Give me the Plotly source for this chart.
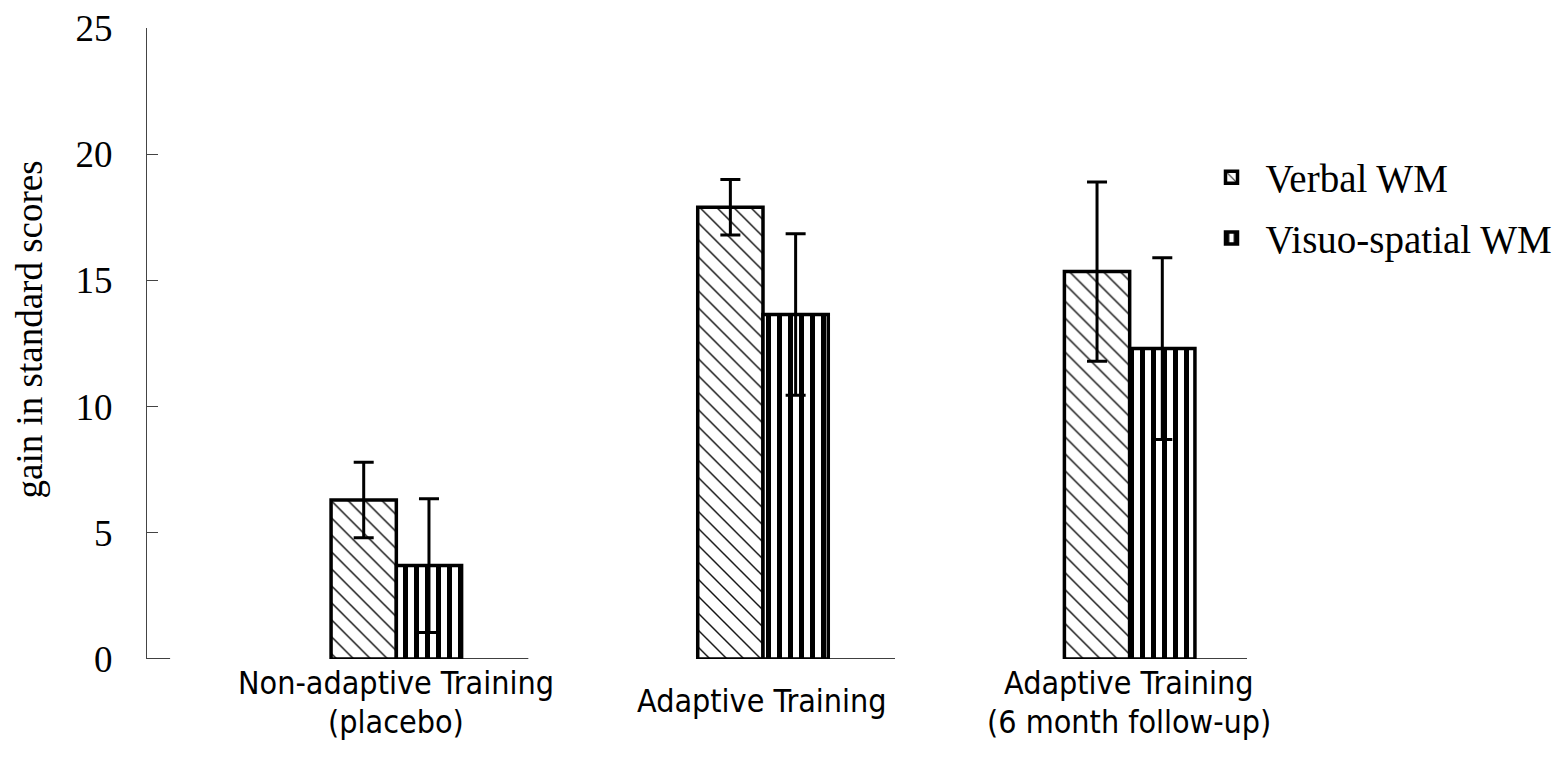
import plotly.graph_objects as go

# Gain in standard working-memory scores by training condition
categories = ["Non-adaptive Training (placebo)", "Adaptive Training", "Adaptive Training (6 month follow-up)"]
label_line1 = ["Non-adaptive Training", "Adaptive Training", "Adaptive Training"]
label_line2 = ["(placebo)", "", "(6 month follow-up)"]

verbal_wm = [6.3, 17.9, 15.35]
verbal_err = [1.5, 1.1, 3.55]
visuo_wm = [3.7, 13.65, 12.3]
visuo_err = [2.65, 3.2, 3.6]

y_ticks = [0, 5, 10, 15, 20, 25]

bar_w = 0.178  # bar width in category units
serif = "Liberation Serif, Times New Roman, serif"
sans = "Liberation Sans Narrow, DejaVu Sans Condensed, Arial Narrow, sans-serif"

fig = go.Figure()

fig.add_trace(go.Bar(
    x=categories, y=verbal_wm, name="Verbal WM",
    width=bar_w, offset=0.002,
    marker=dict(color="white", line=dict(color="black", width=3.5),
                pattern=dict(shape="\\", size=12, solidity=0.12,
                             fgcolor="#111111", bgcolor="white", fillmode="replace")),
    error_y=dict(type="data", array=verbal_err, color="black", thickness=3, width=10),
    legendgroup="a",
))
fig.add_trace(go.Bar(
    x=categories, y=visuo_wm, name="Visuo-spatial WM",
    width=bar_w, offset=bar_w + 0.002,
    marker=dict(color="white", line=dict(color="black", width=3.5),
                pattern=dict(shape="|", size=11, solidity=0.45,
                             fgcolor="black", bgcolor="white", fillmode="replace")),
    error_y=dict(type="data", array=visuo_err, color="black", thickness=3, width=10),
    legendgroup="b",
))

# baseline segments along y = 0
baseline = [(-0.5, -0.437), (0.0, 0.54), (1.0, 1.54), (2.0, 2.5)]
for x0, x1 in baseline:
    fig.add_shape(type="line", xref="x", yref="y", x0=x0, x1=x1, y0=0, y1=0,
                  line=dict(color="black", width=1.5), layer="below")

# two-line category labels below the axis
for i in range(len(categories)):
    xc = i + bar_w
    if label_line2[i]:
        lines = [(label_line1[i], -0.038), (label_line2[i], -0.0998)]
    else:
        lines = [(label_line1[i], -0.0666)]
    for txt, yp in lines:
        fig.add_annotation(x=xc, y=yp, xref="x", yref="paper", text=txt,
                           showarrow=False, yanchor="middle",
                           font=dict(family=sans, size=32, color="black"))

# y-axis title
fig.add_annotation(x=-0.106, y=0.523, xref="paper", yref="paper",
                   text="gain in standard scores", textangle=-90, showarrow=False,
                   xanchor="center", yanchor="middle",
                   font=dict(family=serif, size=37, color="black"))

fig.update_layout(
    width=1552, height=762,
    margin=dict(l=147, r=305, t=28, b=103, autoexpand=False),
    plot_bgcolor="white", paper_bgcolor="white",
    showlegend=True,
    legend=dict(x=0.955, xanchor="left", y=0.814, yanchor="top",
                font=dict(family=serif, size=39, color="black"),
                traceorder="grouped", tracegroupgap=7, itemwidth=58,
                bgcolor="rgba(0,0,0,0)"),
    xaxis=dict(range=[-0.5, 2.5], showticklabels=False, showline=False,
               showgrid=False, zeroline=False, ticks=""),
    yaxis=dict(range=[0, 25], tickvals=y_ticks, ticks="inside", ticklen=11,
               tickcolor="#444", tickwidth=1, showline=True, linecolor="#444",
               linewidth=1, showgrid=False, zeroline=False,
               tickfont=dict(family=serif, size=37, color="black"),
               ticklabelstandoff=26),
)

fig.write_html("out.html")
